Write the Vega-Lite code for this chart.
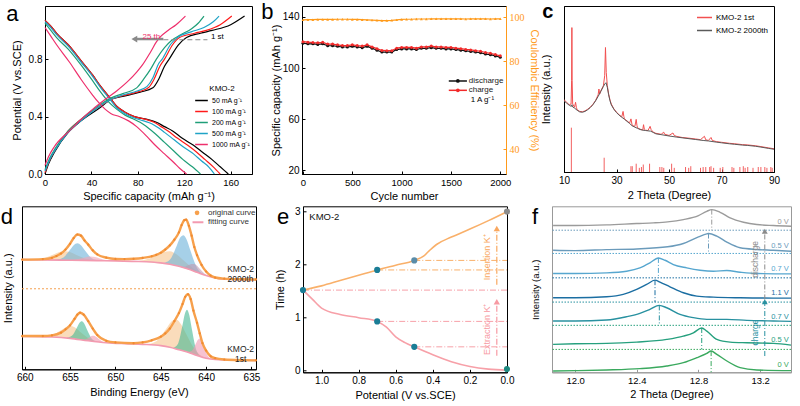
{
"$schema":"https://vega.github.io/schema/vega-lite/v6.json",
"padding":0,
"config":{
 "font":"Liberation Sans",
 "view":{"stroke":"#000","strokeWidth":1},
 "axis":{"grid":false,"domainColor":"#000","tickColor":"#000","labelColor":"#000","titleColor":"#000","labelFontSize":10,"titleFontSize":11,"titleFontWeight":"normal","tickSize":-3,"labelPadding":6,"titlePadding":4,"labelOverlap":false,"labelSeparation":-100,"labelFlush":false}
},
"datasets":{
 "one":[{}],
 "a":[
 {"r":"50 mA g⁻¹","b":"c","x":0,"y":0},{"r":"50 mA g⁻¹","b":"c","x":3,"y":0.07},{"r":"50 mA g⁻¹","b":"c","x":8,"y":0.15},{"r":"50 mA g⁻¹","b":"c","x":20,"y":0.29},{"r":"50 mA g⁻¹","b":"c","x":31,"y":0.37},{"r":"50 mA g⁻¹","b":"c","x":47,"y":0.46},{"r":"50 mA g⁻¹","b":"c","x":57,"y":0.52},{"r":"50 mA g⁻¹","b":"c","x":67,"y":0.54},{"r":"50 mA g⁻¹","b":"c","x":82,"y":0.57},{"r":"50 mA g⁻¹","b":"c","x":93,"y":0.6},{"r":"50 mA g⁻¹","b":"c","x":98,"y":0.66},{"r":"50 mA g⁻¹","b":"c","x":103,"y":0.75},{"r":"50 mA g⁻¹","b":"c","x":107,"y":0.8},{"r":"50 mA g⁻¹","b":"c","x":115,"y":0.9},{"r":"50 mA g⁻¹","b":"c","x":122,"y":0.95},{"r":"50 mA g⁻¹","b":"c","x":134,"y":0.98},{"r":"50 mA g⁻¹","b":"c","x":144,"y":1.0},{"r":"50 mA g⁻¹","b":"c","x":160,"y":1.04},{"r":"50 mA g⁻¹","b":"c","x":172,"y":1.1},
 {"r":"50 mA g⁻¹","b":"d","x":0,"y":1.07},{"r":"50 mA g⁻¹","b":"d","x":5,"y":1.03},{"r":"50 mA g⁻¹","b":"d","x":10,"y":0.98},{"r":"50 mA g⁻¹","b":"d","x":20,"y":0.9},{"r":"50 mA g⁻¹","b":"d","x":31,"y":0.79},{"r":"50 mA g⁻¹","b":"d","x":41,"y":0.69},{"r":"50 mA g⁻¹","b":"d","x":48,"y":0.61},{"r":"50 mA g⁻¹","b":"d","x":55,"y":0.54},{"r":"50 mA g⁻¹","b":"d","x":62,"y":0.47},{"r":"50 mA g⁻¹","b":"d","x":69,"y":0.43},{"r":"50 mA g⁻¹","b":"d","x":77,"y":0.4},{"r":"50 mA g⁻¹","b":"d","x":88,"y":0.38},{"r":"50 mA g⁻¹","b":"d","x":96,"y":0.36},{"r":"50 mA g⁻¹","b":"d","x":103,"y":0.33},{"r":"50 mA g⁻¹","b":"d","x":110,"y":0.3},{"r":"50 mA g⁻¹","b":"d","x":118,"y":0.25},{"r":"50 mA g⁻¹","b":"d","x":128,"y":0.2},{"r":"50 mA g⁻¹","b":"d","x":136,"y":0.15},{"r":"50 mA g⁻¹","b":"d","x":144,"y":0.1},{"r":"50 mA g⁻¹","b":"d","x":151,"y":0.05},{"r":"50 mA g⁻¹","b":"d","x":158,"y":0},
 {"r":"100 mA g⁻¹","b":"c","x":0,"y":0.01},{"r":"100 mA g⁻¹","b":"c","x":3,"y":0.08},{"r":"100 mA g⁻¹","b":"c","x":8,"y":0.16},{"r":"100 mA g⁻¹","b":"c","x":20,"y":0.3},{"r":"100 mA g⁻¹","b":"c","x":31,"y":0.38},{"r":"100 mA g⁻¹","b":"c","x":47,"y":0.47},{"r":"100 mA g⁻¹","b":"c","x":57,"y":0.52},{"r":"100 mA g⁻¹","b":"c","x":67,"y":0.545},{"r":"100 mA g⁻¹","b":"c","x":77,"y":0.565},{"r":"100 mA g⁻¹","b":"c","x":89,"y":0.6},{"r":"100 mA g⁻¹","b":"c","x":94,"y":0.66},{"r":"100 mA g⁻¹","b":"c","x":99,"y":0.75},{"r":"100 mA g⁻¹","b":"c","x":103,"y":0.8},{"r":"100 mA g⁻¹","b":"c","x":110,"y":0.9},{"r":"100 mA g⁻¹","b":"c","x":116,"y":0.95},{"r":"100 mA g⁻¹","b":"c","x":129,"y":0.98},{"r":"100 mA g⁻¹","b":"c","x":139,"y":1.0},{"r":"100 mA g⁻¹","b":"c","x":151,"y":1.04},{"r":"100 mA g⁻¹","b":"c","x":161,"y":1.1},
 {"r":"100 mA g⁻¹","b":"d","x":0,"y":1.07},{"r":"100 mA g⁻¹","b":"d","x":5,"y":1.03},{"r":"100 mA g⁻¹","b":"d","x":10,"y":0.98},{"r":"100 mA g⁻¹","b":"d","x":20,"y":0.9},{"r":"100 mA g⁻¹","b":"d","x":31,"y":0.79},{"r":"100 mA g⁻¹","b":"d","x":41,"y":0.69},{"r":"100 mA g⁻¹","b":"d","x":48,"y":0.61},{"r":"100 mA g⁻¹","b":"d","x":55,"y":0.54},{"r":"100 mA g⁻¹","b":"d","x":62,"y":0.47},{"r":"100 mA g⁻¹","b":"d","x":69,"y":0.43},{"r":"100 mA g⁻¹","b":"d","x":77,"y":0.4},{"r":"100 mA g⁻¹","b":"d","x":87,"y":0.38},{"r":"100 mA g⁻¹","b":"d","x":94,"y":0.36},{"r":"100 mA g⁻¹","b":"d","x":100,"y":0.33},{"r":"100 mA g⁻¹","b":"d","x":106,"y":0.3},{"r":"100 mA g⁻¹","b":"d","x":114,"y":0.25},{"r":"100 mA g⁻¹","b":"d","x":123,"y":0.2},{"r":"100 mA g⁻¹","b":"d","x":131,"y":0.15},{"r":"100 mA g⁻¹","b":"d","x":138,"y":0.1},{"r":"100 mA g⁻¹","b":"d","x":145,"y":0.05},{"r":"100 mA g⁻¹","b":"d","x":151,"y":0},
 {"r":"200 mA g⁻¹","b":"c","x":0,"y":0.03},{"r":"200 mA g⁻¹","b":"c","x":4,"y":0.11},{"r":"200 mA g⁻¹","b":"c","x":9,"y":0.18},{"r":"200 mA g⁻¹","b":"c","x":20,"y":0.3},{"r":"200 mA g⁻¹","b":"c","x":31,"y":0.38},{"r":"200 mA g⁻¹","b":"c","x":47,"y":0.48},{"r":"200 mA g⁻¹","b":"c","x":57,"y":0.53},{"r":"200 mA g⁻¹","b":"c","x":67,"y":0.56},{"r":"200 mA g⁻¹","b":"c","x":79,"y":0.6},{"r":"200 mA g⁻¹","b":"c","x":85,"y":0.66},{"r":"200 mA g⁻¹","b":"c","x":91,"y":0.73},{"r":"200 mA g⁻¹","b":"c","x":96,"y":0.8},{"r":"200 mA g⁻¹","b":"c","x":103,"y":0.88},{"r":"200 mA g⁻¹","b":"c","x":109,"y":0.93},{"r":"200 mA g⁻¹","b":"c","x":117,"y":0.97},{"r":"200 mA g⁻¹","b":"c","x":126,"y":1.01},{"r":"200 mA g⁻¹","b":"c","x":132,"y":1.05},{"r":"200 mA g⁻¹","b":"c","x":137,"y":1.1},
 {"r":"200 mA g⁻¹","b":"d","x":0,"y":1.05},{"r":"200 mA g⁻¹","b":"d","x":5,"y":1.0},{"r":"200 mA g⁻¹","b":"d","x":10,"y":0.95},{"r":"200 mA g⁻¹","b":"d","x":20,"y":0.87},{"r":"200 mA g⁻¹","b":"d","x":31,"y":0.76},{"r":"200 mA g⁻¹","b":"d","x":41,"y":0.65},{"r":"200 mA g⁻¹","b":"d","x":48,"y":0.57},{"r":"200 mA g⁻¹","b":"d","x":55,"y":0.5},{"r":"200 mA g⁻¹","b":"d","x":62,"y":0.45},{"r":"200 mA g⁻¹","b":"d","x":69,"y":0.41},{"r":"200 mA g⁻¹","b":"d","x":77,"y":0.38},{"r":"200 mA g⁻¹","b":"d","x":82,"y":0.36},{"r":"200 mA g⁻¹","b":"d","x":89,"y":0.32},{"r":"200 mA g⁻¹","b":"d","x":95,"y":0.28},{"r":"200 mA g⁻¹","b":"d","x":103,"y":0.22},{"r":"200 mA g⁻¹","b":"d","x":111,"y":0.16},{"r":"200 mA g⁻¹","b":"d","x":119,"y":0.1},{"r":"200 mA g⁻¹","b":"d","x":127,"y":0.05},{"r":"200 mA g⁻¹","b":"d","x":134,"y":0},
 {"r":"500 mA g⁻¹","b":"c","x":0,"y":0.02},{"r":"500 mA g⁻¹","b":"c","x":4,"y":0.1},{"r":"500 mA g⁻¹","b":"c","x":9,"y":0.17},{"r":"500 mA g⁻¹","b":"c","x":20,"y":0.29},{"r":"500 mA g⁻¹","b":"c","x":31,"y":0.37},{"r":"500 mA g⁻¹","b":"c","x":47,"y":0.47},{"r":"500 mA g⁻¹","b":"c","x":57,"y":0.52},{"r":"500 mA g⁻¹","b":"c","x":67,"y":0.55},{"r":"500 mA g⁻¹","b":"c","x":80,"y":0.58},{"r":"500 mA g⁻¹","b":"c","x":88,"y":0.61},{"r":"500 mA g⁻¹","b":"c","x":93,"y":0.67},{"r":"500 mA g⁻¹","b":"c","x":98,"y":0.77},{"r":"500 mA g⁻¹","b":"c","x":101,"y":0.8},{"r":"500 mA g⁻¹","b":"c","x":108,"y":0.9},{"r":"500 mA g⁻¹","b":"c","x":114,"y":0.95},{"r":"500 mA g⁻¹","b":"c","x":126,"y":0.99},{"r":"500 mA g⁻¹","b":"c","x":137,"y":1.02},{"r":"500 mA g⁻¹","b":"c","x":145,"y":1.06},{"r":"500 mA g⁻¹","b":"c","x":150,"y":1.1},
 {"r":"500 mA g⁻¹","b":"d","x":0,"y":1.06},{"r":"500 mA g⁻¹","b":"d","x":5,"y":1.02},{"r":"500 mA g⁻¹","b":"d","x":10,"y":0.97},{"r":"500 mA g⁻¹","b":"d","x":20,"y":0.89},{"r":"500 mA g⁻¹","b":"d","x":31,"y":0.78},{"r":"500 mA g⁻¹","b":"d","x":41,"y":0.68},{"r":"500 mA g⁻¹","b":"d","x":48,"y":0.6},{"r":"500 mA g⁻¹","b":"d","x":55,"y":0.53},{"r":"500 mA g⁻¹","b":"d","x":62,"y":0.46},{"r":"500 mA g⁻¹","b":"d","x":69,"y":0.42},{"r":"500 mA g⁻¹","b":"d","x":77,"y":0.39},{"r":"500 mA g⁻¹","b":"d","x":85,"y":0.37},{"r":"500 mA g⁻¹","b":"d","x":92,"y":0.35},{"r":"500 mA g⁻¹","b":"d","x":98,"y":0.32},{"r":"500 mA g⁻¹","b":"d","x":103,"y":0.29},{"r":"500 mA g⁻¹","b":"d","x":111,"y":0.24},{"r":"500 mA g⁻¹","b":"d","x":119,"y":0.19},{"r":"500 mA g⁻¹","b":"d","x":128,"y":0.14},{"r":"500 mA g⁻¹","b":"d","x":135,"y":0.09},{"r":"500 mA g⁻¹","b":"d","x":141,"y":0.05},{"r":"500 mA g⁻¹","b":"d","x":146,"y":0},
 {"r":"1000 mA g⁻¹","b":"c","x":0,"y":0.06},{"r":"1000 mA g⁻¹","b":"c","x":3,"y":0.12},{"r":"1000 mA g⁻¹","b":"c","x":8,"y":0.19},{"r":"1000 mA g⁻¹","b":"c","x":21,"y":0.3},{"r":"1000 mA g⁻¹","b":"c","x":31,"y":0.38},{"r":"1000 mA g⁻¹","b":"c","x":41,"y":0.45},{"r":"1000 mA g⁻¹","b":"c","x":52,"y":0.52},{"r":"1000 mA g⁻¹","b":"c","x":62,"y":0.58},{"r":"1000 mA g⁻¹","b":"c","x":72,"y":0.65},{"r":"1000 mA g⁻¹","b":"c","x":79,"y":0.71},{"r":"1000 mA g⁻¹","b":"c","x":84,"y":0.76},{"r":"1000 mA g⁻¹","b":"c","x":91,"y":0.85},{"r":"1000 mA g⁻¹","b":"c","x":96,"y":0.92},{"r":"1000 mA g⁻¹","b":"c","x":100,"y":0.96},{"r":"1000 mA g⁻¹","b":"c","x":106,"y":1.0},{"r":"1000 mA g⁻¹","b":"c","x":113,"y":1.04},{"r":"1000 mA g⁻¹","b":"c","x":121,"y":1.1},
 {"r":"1000 mA g⁻¹","b":"d","x":0,"y":1.02},{"r":"1000 mA g⁻¹","b":"d","x":5,"y":0.96},{"r":"1000 mA g⁻¹","b":"d","x":10,"y":0.9},{"r":"1000 mA g⁻¹","b":"d","x":21,"y":0.78},{"r":"1000 mA g⁻¹","b":"d","x":31,"y":0.66},{"r":"1000 mA g⁻¹","b":"d","x":41,"y":0.55},{"r":"1000 mA g⁻¹","b":"d","x":46,"y":0.5},{"r":"1000 mA g⁻¹","b":"d","x":52,"y":0.45},{"r":"1000 mA g⁻¹","b":"d","x":57,"y":0.42},{"r":"1000 mA g⁻¹","b":"d","x":64,"y":0.4},{"r":"1000 mA g⁻¹","b":"d","x":72,"y":0.37},{"r":"1000 mA g⁻¹","b":"d","x":79,"y":0.33},{"r":"1000 mA g⁻¹","b":"d","x":88,"y":0.26},{"r":"1000 mA g⁻¹","b":"d","x":95,"y":0.2},{"r":"1000 mA g⁻¹","b":"d","x":103,"y":0.14},{"r":"1000 mA g⁻¹","b":"d","x":111,"y":0.08},{"r":"1000 mA g⁻¹","b":"d","x":116,"y":0.04},{"r":"1000 mA g⁻¹","b":"d","x":122,"y":0}
 ],
 "b":[
 {"cyc":0,"discharge":119.5,"charge":120.7,"ce":98.7},{"cyc":50,"discharge":119,"charge":120.3,"ce":98.8},{"cyc":100,"discharge":119,"charge":120,"ce":98.8},{"cyc":150,"discharge":118.5,"charge":119.8,"ce":98.9},{"cyc":200,"discharge":119,"charge":120.2,"ce":98.9},{"cyc":250,"discharge":117.5,"charge":118.8,"ce":98.9},{"cyc":300,"discharge":117.5,"charge":118.8,"ce":98.9},{"cyc":350,"discharge":117,"charge":118.2,"ce":99.0},{"cyc":400,"discharge":116.5,"charge":117.6,"ce":99.0},{"cyc":450,"discharge":116.5,"charge":117.6,"ce":99.0},{"cyc":500,"discharge":117,"charge":118.2,"ce":98.9},{"cyc":550,"discharge":116.5,"charge":117.6,"ce":98.9},{"cyc":600,"discharge":116,"charge":117.2,"ce":98.8},{"cyc":650,"discharge":117,"charge":118.2,"ce":98.7},{"cyc":700,"discharge":115.5,"charge":116.6,"ce":98.6},{"cyc":750,"discharge":114,"charge":115.2,"ce":98.5},{"cyc":800,"discharge":112.5,"charge":113.8,"ce":98.4},{"cyc":850,"discharge":112.5,"charge":113.6,"ce":98.4},{"cyc":900,"discharge":112.5,"charge":113.6,"ce":98.5},{"cyc":950,"discharge":114.5,"charge":115.6,"ce":98.7},{"cyc":1000,"discharge":115,"charge":116.2,"ce":98.9},{"cyc":1050,"discharge":115,"charge":116.2,"ce":99.0},{"cyc":1100,"discharge":115,"charge":116.2,"ce":99.0},{"cyc":1150,"discharge":114.5,"charge":115.6,"ce":99.1},{"cyc":1200,"discharge":115.5,"charge":116.6,"ce":99.1},{"cyc":1250,"discharge":115.5,"charge":116.6,"ce":99.1},{"cyc":1300,"discharge":116,"charge":117.2,"ce":99.2},{"cyc":1350,"discharge":115.5,"charge":116.6,"ce":99.2},{"cyc":1400,"discharge":115.5,"charge":116.6,"ce":99.2},{"cyc":1450,"discharge":115,"charge":116.2,"ce":99.2},{"cyc":1500,"discharge":115,"charge":116.2,"ce":99.2},{"cyc":1550,"discharge":114.5,"charge":115.6,"ce":99.2},{"cyc":1600,"discharge":114,"charge":115.2,"ce":99.2},{"cyc":1650,"discharge":113.5,"charge":114.6,"ce":99.1},{"cyc":1700,"discharge":113,"charge":114.2,"ce":99.2},{"cyc":1750,"discharge":112.5,"charge":113.6,"ce":99.2},{"cyc":1800,"discharge":112,"charge":113.2,"ce":99.2},{"cyc":1850,"discharge":111,"charge":112.2,"ce":99.2},{"cyc":1900,"discharge":110.5,"charge":111.6,"ce":99.1},{"cyc":1950,"discharge":109.5,"charge":110.6,"ce":99.2},{"cyc":2000,"discharge":108.5,"charge":109.6,"ce":99.2}
 ],
 "b_leg":[{"s":"discharge","ly":89.9},{"s":"charge","ly":82.6}],
 "c_sticks":[
 {"x":12.8,"h":26.7},{"x":25.3,"h":8.6},{"x":35.5,"h":3.5},{"x":36,"h":3.5},{"x":37.5,"h":5},{"x":38.7,"h":2.5},{"x":39.5,"h":3},{"x":40.2,"h":4.5},{"x":42.6,"h":5},{"x":46.5,"h":3},{"x":47.3,"h":3},{"x":48,"h":2.5},{"x":51,"h":5},{"x":52,"h":2.5},{"x":56.3,"h":3},{"x":57.5,"h":2.5},{"x":58.3,"h":3.5},{"x":62,"h":2.5},{"x":63,"h":3},{"x":64,"h":3},{"x":65.5,"h":3},{"x":66,"h":3.5},{"x":67,"h":2.5},{"x":69.5,"h":2.5},{"x":70.5,"h":3},{"x":74,"h":3},{"x":74.7,"h":2.5},{"x":77,"h":3},{"x":78.3,"h":3.5},{"x":79,"h":2.5},{"x":80,"h":3},{"x":82,"h":2.5},{"x":84,"h":3},{"x":85,"h":3},{"x":86.5,"h":3},{"x":87.3,"h":2.5},{"x":88.8,"h":3},{"x":89.3,"h":2.5}
 ],
 "c_curves":[
 {"s":"KMO-2  1st","x":10,"y":43.5},{"s":"KMO-2  1st","x":11,"y":42},{"s":"KMO-2  1st","x":12,"y":40.5},{"s":"KMO-2  1st","x":12.7,"y":41},{"s":"KMO-2  1st","x":12.9,"y":55},{"s":"KMO-2  1st","x":13,"y":87},{"s":"KMO-2  1st","x":13.1,"y":55},{"s":"KMO-2  1st","x":13.3,"y":41},{"s":"KMO-2  1st","x":14,"y":39},{"s":"KMO-2  1st","x":14.4,"y":42},{"s":"KMO-2  1st","x":14.7,"y":39},{"s":"KMO-2  1st","x":15,"y":37.5},{"s":"KMO-2  1st","x":16,"y":36.5},{"s":"KMO-2  1st","x":17,"y":36.3},{"s":"KMO-2  1st","x":18,"y":36.8},{"s":"KMO-2  1st","x":19,"y":37.8},{"s":"KMO-2  1st","x":20,"y":39},{"s":"KMO-2  1st","x":21,"y":40.8},{"s":"KMO-2  1st","x":22,"y":43},{"s":"KMO-2  1st","x":23,"y":46.5},{"s":"KMO-2  1st","x":23.3,"y":50},{"s":"KMO-2  1st","x":23.6,"y":47},{"s":"KMO-2  1st","x":24,"y":48.8},{"s":"KMO-2  1st","x":25,"y":52},{"s":"KMO-2  1st","x":25.5,"y":58},{"s":"KMO-2  1st","x":25.8,"y":75},{"s":"KMO-2  1st","x":26.1,"y":60},{"s":"KMO-2  1st","x":26.5,"y":52},{"s":"KMO-2  1st","x":27,"y":47},{"s":"KMO-2  1st","x":27.5,"y":43.5},{"s":"KMO-2  1st","x":28,"y":41},{"s":"KMO-2  1st","x":29,"y":38},{"s":"KMO-2  1st","x":30,"y":36},{"s":"KMO-2  1st","x":31,"y":34.5},{"s":"KMO-2  1st","x":32,"y":33.2},{"s":"KMO-2  1st","x":32.5,"y":36.5},{"s":"KMO-2  1st","x":32.8,"y":33.5},{"s":"KMO-2  1st","x":33,"y":32},{"s":"KMO-2  1st","x":34,"y":30.8},{"s":"KMO-2  1st","x":35,"y":29.5},{"s":"KMO-2  1st","x":35.5,"y":32},{"s":"KMO-2  1st","x":35.8,"y":29.5},{"s":"KMO-2  1st","x":36,"y":28},{"s":"KMO-2  1st","x":37,"y":27.5},{"s":"KMO-2  1st","x":37.5,"y":31.7},{"s":"KMO-2  1st","x":37.8,"y":28},{"s":"KMO-2  1st","x":38,"y":26.6},{"s":"KMO-2  1st","x":39,"y":25.8},{"s":"KMO-2  1st","x":40,"y":25.3},{"s":"KMO-2  1st","x":40.3,"y":28.5},{"s":"KMO-2  1st","x":40.6,"y":25.8},{"s":"KMO-2  1st","x":41,"y":25.2},{"s":"KMO-2  1st","x":42,"y":25},{"s":"KMO-2  1st","x":42.8,"y":27.5},{"s":"KMO-2  1st","x":43.2,"y":25.5},{"s":"KMO-2  1st","x":44,"y":24},{"s":"KMO-2  1st","x":45,"y":23.3},{"s":"KMO-2  1st","x":47,"y":22.7},{"s":"KMO-2  1st","x":48,"y":24},{"s":"KMO-2  1st","x":48.3,"y":22.8},{"s":"KMO-2  1st","x":50,"y":22},{"s":"KMO-2  1st","x":51.5,"y":23.5},{"s":"KMO-2  1st","x":52,"y":22},{"s":"KMO-2  1st","x":53,"y":21.4},{"s":"KMO-2  1st","x":55,"y":20.8},{"s":"KMO-2  1st","x":58,"y":20.3},{"s":"KMO-2  1st","x":60,"y":19.9},{"s":"KMO-2  1st","x":62,"y":19.5},{"s":"KMO-2  1st","x":63.5,"y":21.5},{"s":"KMO-2  1st","x":64,"y":19.4},{"s":"KMO-2  1st","x":65,"y":19},{"s":"KMO-2  1st","x":66,"y":20.8},{"s":"KMO-2  1st","x":66.5,"y":19},{"s":"KMO-2  1st","x":68,"y":18.3},{"s":"KMO-2  1st","x":70,"y":17.9},{"s":"KMO-2  1st","x":73,"y":17.3},{"s":"KMO-2  1st","x":75,"y":17},{"s":"KMO-2  1st","x":78,"y":16.5},{"s":"KMO-2  1st","x":80,"y":16.3},{"s":"KMO-2  1st","x":83,"y":15.8},{"s":"KMO-2  1st","x":85,"y":15.3},{"s":"KMO-2  1st","x":88,"y":14.5},{"s":"KMO-2  1st","x":90,"y":14},
 {"s":"KMO-2  2000th","x":10,"y":42.8},{"s":"KMO-2  2000th","x":11,"y":41.5},{"s":"KMO-2  2000th","x":12,"y":40.2},{"s":"KMO-2  2000th","x":12.8,"y":39.5},{"s":"KMO-2  2000th","x":13,"y":40.5},{"s":"KMO-2  2000th","x":13.3,"y":39.2},{"s":"KMO-2  2000th","x":14,"y":38.5},{"s":"KMO-2  2000th","x":15,"y":37.2},{"s":"KMO-2  2000th","x":16,"y":36.2},{"s":"KMO-2  2000th","x":17,"y":36},{"s":"KMO-2  2000th","x":18,"y":36.5},{"s":"KMO-2  2000th","x":19,"y":37.5},{"s":"KMO-2  2000th","x":20,"y":38.8},{"s":"KMO-2  2000th","x":21,"y":40.5},{"s":"KMO-2  2000th","x":22,"y":42.8},{"s":"KMO-2  2000th","x":23,"y":45.5},{"s":"KMO-2  2000th","x":24,"y":48.5},{"s":"KMO-2  2000th","x":25,"y":51.5},{"s":"KMO-2  2000th","x":25.5,"y":53},{"s":"KMO-2  2000th","x":26,"y":53.8},{"s":"KMO-2  2000th","x":26.5,"y":51},{"s":"KMO-2  2000th","x":27,"y":46.5},{"s":"KMO-2  2000th","x":27.5,"y":43},{"s":"KMO-2  2000th","x":28,"y":40.5},{"s":"KMO-2  2000th","x":29,"y":37.8},{"s":"KMO-2  2000th","x":30,"y":35.8},{"s":"KMO-2  2000th","x":31,"y":34.2},{"s":"KMO-2  2000th","x":32,"y":33},{"s":"KMO-2  2000th","x":33,"y":31.8},{"s":"KMO-2  2000th","x":34,"y":30.5},{"s":"KMO-2  2000th","x":35,"y":29.2},{"s":"KMO-2  2000th","x":36,"y":27.8},{"s":"KMO-2  2000th","x":37,"y":27},{"s":"KMO-2  2000th","x":38,"y":26.3},{"s":"KMO-2  2000th","x":39,"y":25.6},{"s":"KMO-2  2000th","x":40,"y":25.2},{"s":"KMO-2  2000th","x":41,"y":25},{"s":"KMO-2  2000th","x":42,"y":24.8},{"s":"KMO-2  2000th","x":43,"y":24.6},{"s":"KMO-2  2000th","x":44,"y":23.8},{"s":"KMO-2  2000th","x":45,"y":23},{"s":"KMO-2  2000th","x":47,"y":22.5},{"s":"KMO-2  2000th","x":50,"y":21.7},{"s":"KMO-2  2000th","x":53,"y":21},{"s":"KMO-2  2000th","x":55,"y":20.6},{"s":"KMO-2  2000th","x":58,"y":20},{"s":"KMO-2  2000th","x":60,"y":19.6},{"s":"KMO-2  2000th","x":63,"y":19},{"s":"KMO-2  2000th","x":65,"y":18.7},{"s":"KMO-2  2000th","x":68,"y":18},{"s":"KMO-2  2000th","x":70,"y":17.6},{"s":"KMO-2  2000th","x":73,"y":17},{"s":"KMO-2  2000th","x":75,"y":16.7},{"s":"KMO-2  2000th","x":78,"y":16.2},{"s":"KMO-2  2000th","x":80,"y":16},{"s":"KMO-2  2000th","x":83,"y":15.5},{"s":"KMO-2  2000th","x":85,"y":15},{"s":"KMO-2  2000th","x":88,"y":14.2},{"s":"KMO-2  2000th","x":90,"y":13.7}
 ],
 "d_comp":[
 {"k":"uo1","x":659.5,"t":67.26,"bo":67.2},{"k":"uo1","x":658.2,"t":67.84,"bo":67.1},{"k":"uo1","x":656.9,"t":70.34,"bo":67.0},{"k":"uo1","x":656.25,"t":71.85,"bo":67.0},{"k":"uo1","x":655.6,"t":72.45,"bo":66.95},{"k":"uo1","x":654.95,"t":71.75,"bo":66.9},{"k":"uo1","x":654.3,"t":70.19,"bo":66.85},{"k":"uo1","x":653.0,"t":67.44,"bo":66.7},{"k":"uo1","x":651.7,"t":66.66,"bo":66.6},
 {"k":"uo2","x":648.2,"t":66.29,"bo":66.2},{"k":"uo2","x":646.8,"t":67.08,"bo":66.0},{"k":"uo2","x":645.4,"t":69.96,"bo":65.1},{"k":"uo2","x":644.7,"t":71.76,"bo":64.7},{"k":"uo2","x":644.0,"t":72.5,"bo":64.5},{"k":"uo2","x":643.3,"t":70.66,"bo":63.6},{"k":"uo2","x":642.6,"t":67.36,"bo":62.5},{"k":"uo2","x":641.2,"t":60.98,"bo":59.9},{"k":"uo2","x":639.8,"t":57.29,"bo":57.2},
 {"k":"lo1","x":658.2,"t":20.08,"bo":20.0},{"k":"lo1","x":657.1,"t":20.81,"bo":19.8},{"k":"lo1","x":656.0,"t":23.95,"bo":19.4},{"k":"lo1","x":655.45,"t":25.82,"bo":19.2},{"k":"lo1","x":654.9,"t":26.5,"bo":19.0},{"k":"lo1","x":654.35,"t":25.22,"bo":18.6},{"k":"lo1","x":653.8,"t":22.65,"bo":18.1},{"k":"lo1","x":652.7,"t":18.31,"bo":17.3},{"k":"lo1","x":651.6,"t":16.68,"bo":16.6},
 {"k":"lo2","x":646.6,"t":15.3,"bo":15.1},{"k":"lo2","x":645.5,"t":17.23,"bo":14.8},{"k":"lo2","x":644.4,"t":24.83,"bo":13.9},{"k":"lo2","x":643.85,"t":29.18,"bo":13.3},{"k":"lo2","x":643.3,"t":30.5,"bo":12.5},{"k":"lo2","x":642.75,"t":27.48,"bo":11.6},{"k":"lo2","x":642.2,"t":21.73,"bo":10.8},{"k":"lo2","x":641.1,"t":11.13,"bo":8.7},{"k":"lo2","x":640.0,"t":7.0,"bo":6.8},
 {"k":"ub1","x":656.6,"t":67.07,"bo":66.95},{"k":"ub1","x":655.8,"t":68.37,"bo":66.95},{"k":"ub1","x":655.0,"t":73.27,"bo":66.9},{"k":"ub1","x":654.6,"t":76.16,"bo":66.9},{"k":"ub1","x":654.2,"t":77.35,"bo":66.85},{"k":"ub1","x":653.8,"t":76.06,"bo":66.8},{"k":"ub1","x":653.4,"t":73.17,"bo":66.8},{"k":"ub1","x":652.6,"t":68.12,"bo":66.7},{"k":"ub1","x":651.8,"t":66.72,"bo":66.6},
 {"k":"ub2","x":644.75,"t":65.12,"bo":64.9},{"k":"ub2","x":644.0,"t":67.2,"bo":64.5},{"k":"ub2","x":643.25,"t":75.64,"bo":63.5},{"k":"ub2","x":642.875,"t":80.64,"bo":63.0},{"k":"ub2","x":642.5,"t":82.3,"bo":62.3},{"k":"ub2","x":642.125,"t":79.34,"bo":61.7},{"k":"ub2","x":641.75,"t":73.14,"bo":61.0},{"k":"ub2","x":641.0,"t":62.2,"bo":59.5},{"k":"ub2","x":640.25,"t":58.22,"bo":58.0},
 {"k":"lg1","x":655.35,"t":19.33,"bo":19.2},{"k":"lg1","x":654.8,"t":20.55,"bo":19.0},{"k":"lg1","x":654.25,"t":25.48,"bo":18.5},{"k":"lg1","x":653.975,"t":28.44,"bo":18.3},{"k":"lg1","x":653.7,"t":29.5,"bo":18.0},{"k":"lg1","x":653.425,"t":27.94,"bo":17.8},{"k":"lg1","x":653.15,"t":24.58,"bo":17.6},{"k":"lg1","x":652.6,"t":18.75,"bo":17.2},{"k":"lg1","x":652.05,"t":16.93,"bo":16.8},
 {"k":"lg2","x":643.6,"t":13.19,"bo":12.9},{"k":"lg2","x":643.1,"t":15.71,"bo":12.2},{"k":"lg2","x":642.6,"t":27.18,"bo":11.4},{"k":"lg2","x":642.35,"t":33.93,"bo":11.0},{"k":"lg2","x":642.1,"t":36.6,"bo":10.6},{"k":"lg2","x":641.85,"t":33.13,"bo":10.2},{"k":"lg2","x":641.6,"t":25.48,"bo":9.7},{"k":"lg2","x":641.1,"t":12.21,"bo":8.7},{"k":"lg2","x":640.6,"t":8.09,"bo":7.8},
 {"k":"up1","x":655.4,"t":66.93,"bo":66.9},{"k":"up1","x":654.5,"t":67.19,"bo":66.85},{"k":"up1","x":653.6,"t":68.32,"bo":66.8},{"k":"up1","x":653.15,"t":68.95,"bo":66.75},{"k":"up1","x":652.7,"t":69.2,"bo":66.7},{"k":"up1","x":652.25,"t":68.85,"bo":66.65},{"k":"up1","x":651.8,"t":68.12,"bo":66.6},{"k":"up1","x":650.9,"t":66.89,"bo":66.55},{"k":"up1","x":650.0,"t":66.53,"bo":66.5},
 {"k":"up2","x":643.1,"t":63.45,"bo":63.4},{"k":"up2","x":642.5,"t":62.91,"bo":62.3},{"k":"up2","x":641.9,"t":64.03,"bo":61.3},{"k":"up2","x":641.6,"t":64.67,"bo":60.7},{"k":"up2","x":641.3,"t":64.6,"bo":60.1},{"k":"up2","x":641.0,"t":63.47,"bo":59.5},{"k":"up2","x":640.7,"t":61.63,"bo":58.9},{"k":"up2","x":640.1,"t":58.31,"bo":57.7},{"k":"up2","x":639.5,"t":56.85,"bo":56.8},
 {"k":"lp1","x":653.9,"t":18.24,"bo":18.2},{"k":"lp1","x":653.4,"t":18.27,"bo":17.8},{"k":"lp1","x":652.9,"t":19.52,"bo":17.4},{"k":"lp1","x":652.65,"t":20.39,"bo":17.3},{"k":"lp1","x":652.4,"t":20.6,"bo":17.1},{"k":"lp1","x":652.15,"t":20.04,"bo":16.95},{"k":"lp1","x":651.9,"t":18.92,"bo":16.8},{"k":"lp1","x":651.4,"t":16.97,"bo":16.5},{"k":"lp1","x":650.9,"t":16.24,"bo":16.2},
 {"k":"lp2","x":642.05,"t":10.62,"bo":10.5},{"k":"lp2","x":641.6,"t":11.19,"bo":9.7},{"k":"lp2","x":641.15,"t":15.48,"bo":8.8},{"k":"lp2","x":640.925,"t":18.0,"bo":8.3},{"k":"lp2","x":640.7,"t":18.9,"bo":7.9},{"k":"lp2","x":640.475,"t":17.2,"bo":7.5},{"k":"lp2","x":640.25,"t":13.78,"bo":7.1},{"k":"lp2","x":639.8,"t":8.09,"bo":6.6},{"k":"lp2","x":639.35,"t":6.32,"bo":6.2}
 ],
 "d_base":[
 {"s":"u","x":660.3,"y":67.3},{"s":"u","x":656,"y":67.0},{"s":"u","x":652,"y":66.7},{"s":"u","x":650,"y":66.5},{"s":"u","x":648,"y":66.2},{"s":"u","x":646,"y":65.8},{"s":"u","x":645,"y":65.3},{"s":"u","x":644,"y":64.5},{"s":"u","x":643,"y":63.2},{"s":"u","x":642,"y":61.5},{"s":"u","x":641,"y":59.5},{"s":"u","x":640,"y":57.5},{"s":"u","x":639,"y":56.0},{"s":"u","x":638,"y":55.3},{"s":"u","x":636,"y":55.0},{"s":"u","x":634.5,"y":55.0},
 {"s":"l","x":660.3,"y":20.2},{"s":"l","x":657,"y":19.8},{"s":"l","x":655,"y":19.0},{"s":"l","x":653,"y":17.5},{"s":"l","x":651,"y":16.3},{"s":"l","x":649,"y":15.7},{"s":"l","x":647,"y":15.3},{"s":"l","x":645,"y":14.5},{"s":"l","x":644,"y":13.5},{"s":"l","x":643,"y":12.0},{"s":"l","x":642,"y":10.5},{"s":"l","x":641,"y":8.5},{"s":"l","x":640,"y":6.8},{"s":"l","x":639,"y":6.0},{"s":"l","x":637,"y":5.6},{"s":"l","x":634.5,"y":5.5}
 ],
 "d_orig":[
 {"s":"u","x":660.3,"y":67.3},{"s":"u","x":658,"y":67.6},{"s":"u","x":657,"y":68.4},{"s":"u","x":656.5,"y":69.5},{"s":"u","x":656,"y":71},{"s":"u","x":655.5,"y":73.5},{"s":"u","x":655,"y":77},{"s":"u","x":654.6,"y":80.5},{"s":"u","x":654.2,"y":82.7},{"s":"u","x":653.8,"y":82},{"s":"u","x":653.4,"y":79},{"s":"u","x":653,"y":76.5},{"s":"u","x":652.5,"y":73},{"s":"u","x":652,"y":70.5},{"s":"u","x":651,"y":68.5},{"s":"u","x":650,"y":67.7},{"s":"u","x":649,"y":67.6},{"s":"u","x":648,"y":67.8},{"s":"u","x":647,"y":68.3},{"s":"u","x":646,"y":69.3},{"s":"u","x":645.5,"y":70.2},{"s":"u","x":645,"y":71.5},{"s":"u","x":644.5,"y":73.5},{"s":"u","x":644,"y":76},{"s":"u","x":643.5,"y":79.5},{"s":"u","x":643,"y":84},{"s":"u","x":642.7,"y":88.5},{"s":"u","x":642.4,"y":91.5},{"s":"u","x":642.2,"y":91.8},{"s":"u","x":641.9,"y":88},{"s":"u","x":641.6,"y":82},{"s":"u","x":641.3,"y":75},{"s":"u","x":641,"y":70},{"s":"u","x":640.5,"y":64},{"s":"u","x":640,"y":60},{"s":"u","x":639.5,"y":57.5},{"s":"u","x":639,"y":56.3},{"s":"u","x":638,"y":55.6},{"s":"u","x":636,"y":55.2},{"s":"u","x":634.5,"y":55.1},
 {"s":"l","x":660.3,"y":20.4},{"s":"l","x":658,"y":20.4},{"s":"l","x":657,"y":20.8},{"s":"l","x":656,"y":22.5},{"s":"l","x":655.5,"y":24.5},{"s":"l","x":655,"y":27},{"s":"l","x":654.5,"y":31},{"s":"l","x":654.2,"y":33.5},{"s":"l","x":653.9,"y":34.7},{"s":"l","x":653.5,"y":33.5},{"s":"l","x":653,"y":29.5},{"s":"l","x":652.5,"y":25},{"s":"l","x":652,"y":21},{"s":"l","x":651,"y":17.5},{"s":"l","x":650,"y":16.5},{"s":"l","x":648,"y":16},{"s":"l","x":647,"y":16.5},{"s":"l","x":646,"y":17.8},{"s":"l","x":645,"y":20},{"s":"l","x":644.5,"y":22},{"s":"l","x":644,"y":25},{"s":"l","x":643.5,"y":29.5},{"s":"l","x":643,"y":34.5},{"s":"l","x":642.6,"y":40},{"s":"l","x":642.3,"y":44.5},{"s":"l","x":642,"y":46},{"s":"l","x":641.7,"y":43},{"s":"l","x":641.4,"y":36},{"s":"l","x":641,"y":28.5},{"s":"l","x":640.7,"y":22},{"s":"l","x":640.4,"y":16},{"s":"l","x":640,"y":11.5},{"s":"l","x":639.5,"y":8},{"s":"l","x":639,"y":6.8},{"s":"l","x":638,"y":6},{"s":"l","x":636,"y":5.6},{"s":"l","x":634.5,"y":5.5}
 ],
 "e_lines":[
 {"s":"ins","p":1.1,"t":1.52},{"s":"ins","p":1.0,"t":1.6},{"s":"ins","p":0.9,"t":1.7},{"s":"ins","p":0.8,"t":1.8},{"s":"ins","p":0.7,"t":1.9},{"s":"ins","p":0.6,"t":1.99},{"s":"ins","p":0.5,"t":2.08},{"s":"ins","p":0.45,"t":2.16},{"s":"ins","p":0.42,"t":2.26},{"s":"ins","p":0.38,"t":2.38},{"s":"ins","p":0.3,"t":2.52},{"s":"ins","p":0.2,"t":2.67},{"s":"ins","p":0.1,"t":2.83},{"s":"ins","p":0.0,"t":3.0},
 {"s":"ext","p":1.1,"t":1.52},{"s":"ext","p":1.05,"t":1.35},{"s":"ext","p":1.0,"t":1.18},{"s":"ext","p":0.9,"t":1.06},{"s":"ext","p":0.8,"t":1.0},{"s":"ext","p":0.7,"t":0.93},{"s":"ext","p":0.65,"t":0.82},{"s":"ext","p":0.6,"t":0.64},{"s":"ext","p":0.55,"t":0.53},{"s":"ext","p":0.5,"t":0.45},{"s":"ext","p":0.4,"t":0.3},{"s":"ext","p":0.3,"t":0.17},{"s":"ext","p":0.2,"t":0.08},{"s":"ext","p":0.1,"t":0.03},{"s":"ext","p":0.0,"t":0.01}
 ],
 "e_rules":[
 {"s":"ins","p":0.5,"t":2.08},{"s":"ins","p":0.7,"t":1.9},{"s":"ext","p":1.1,"t":1.52},{"s":"ext","p":0.7,"t":0.93},{"s":"ext","p":0.5,"t":0.45}
 ],
 "e_dots":[
 {"k":"teal","p":1.1,"t":1.52},{"k":"teal","p":0.7,"t":1.9},{"k":"steel","p":0.5,"t":2.08},{"k":"gray","p":0.0,"t":3.0},{"k":"teal","p":0.7,"t":0.93},{"k":"teal","p":0.5,"t":0.45},{"k":"green","p":0.0,"t":0.03}
 ],
 "f_curves":[
 {"c":"c7","x":11.857,"y":88.4},{"c":"c7","x":12.0,"y":88.4},{"c":"c7","x":12.204,"y":88.8},{"c":"c7","x":12.399,"y":89.6},{"c":"c7","x":12.507,"y":90.0},{"c":"c7","x":12.6,"y":90.6},{"c":"c7","x":12.702,"y":92.0},{"c":"c7","x":12.8,"y":94.4},{"c":"c7","x":12.854,"y":97.0},{"c":"c7","x":12.886,"y":98.0},{"c":"c7","x":12.94,"y":96.4},{"c":"c7","x":13.005,"y":93.0},{"c":"c7","x":13.092,"y":90.4},{"c":"c7","x":13.178,"y":89.0},{"c":"c7","x":13.286,"y":88.4},{"c":"c7","x":13.4,"y":88.0},
 {"c":"c6","x":11.857,"y":73.5},{"c":"c6","x":12.0,"y":73.3},{"c":"c6","x":12.204,"y":73.9},{"c":"c6","x":12.399,"y":74.3},{"c":"c6","x":12.6,"y":75.6},{"c":"c6","x":12.702,"y":77.6},{"c":"c6","x":12.8,"y":81.6},{"c":"c6","x":12.854,"y":83.4},{"c":"c6","x":12.865,"y":83.6},{"c":"c6","x":12.919,"y":82.0},{"c":"c6","x":12.984,"y":78.4},{"c":"c6","x":13.07,"y":75.0},{"c":"c6","x":13.178,"y":74.0},{"c":"c6","x":13.286,"y":73.5},{"c":"c6","x":13.4,"y":72.9},
 {"c":"c5","x":11.857,"y":59.5},{"c":"c5","x":12.0,"y":59.5},{"c":"c5","x":12.204,"y":59.9},{"c":"c5","x":12.334,"y":60.9},{"c":"c5","x":12.42,"y":62.9},{"c":"c5","x":12.485,"y":65.9},{"c":"c5","x":12.54,"y":68.9},{"c":"c5","x":12.583,"y":67.5},{"c":"c5","x":12.637,"y":64.9},{"c":"c5","x":12.724,"y":62.9},{"c":"c5","x":12.81,"y":61.5},{"c":"c5","x":12.897,"y":60.9},{"c":"c5","x":12.984,"y":61.3},{"c":"c5","x":13.07,"y":60.3},{"c":"c5","x":13.178,"y":59.5},{"c":"c5","x":13.4,"y":59.3},
 {"c":"c4","x":11.857,"y":44.9},{"c":"c4","x":12.0,"y":44.9},{"c":"c4","x":12.204,"y":45.5},{"c":"c4","x":12.312,"y":46.9},{"c":"c4","x":12.399,"y":49.9},{"c":"c4","x":12.464,"y":52.9},{"c":"c4","x":12.518,"y":55.5},{"c":"c4","x":12.55,"y":54.3},{"c":"c4","x":12.615,"y":51.5},{"c":"c4","x":12.702,"y":47.9},{"c":"c4","x":12.789,"y":45.9},{"c":"c4","x":12.897,"y":45.3},{"c":"c4","x":13.07,"y":44.9},{"c":"c4","x":13.286,"y":44.7},{"c":"c4","x":13.4,"y":44.7},
 {"c":"c3","x":11.857,"y":30.9},{"c":"c3","x":12.0,"y":30.9},{"c":"c3","x":12.204,"y":31.5},{"c":"c3","x":12.334,"y":33.5},{"c":"c3","x":12.42,"y":35.5},{"c":"c3","x":12.485,"y":37.9},{"c":"c3","x":12.546,"y":40.3},{"c":"c3","x":12.594,"y":38.9},{"c":"c3","x":12.68,"y":34.9},{"c":"c3","x":12.767,"y":32.9},{"c":"c3","x":12.854,"y":31.9},{"c":"c3","x":12.984,"y":31.9},{"c":"c3","x":13.114,"y":31.3},{"c":"c3","x":13.286,"y":30.9},{"c":"c3","x":13.4,"y":30.7},
 {"c":"c2","x":11.857,"y":16.8},{"c":"c2","x":12.0,"y":17.2},{"c":"c2","x":12.204,"y":17.4},{"c":"c2","x":12.399,"y":18.2},{"c":"c2","x":12.594,"y":19.8},{"c":"c2","x":12.702,"y":21.8},{"c":"c2","x":12.767,"y":23.8},{"c":"c2","x":12.821,"y":26.7},{"c":"c2","x":12.854,"y":24.8},{"c":"c2","x":12.919,"y":19.8},{"c":"c2","x":13.005,"y":18.2},{"c":"c2","x":13.114,"y":17.8},{"c":"c2","x":13.286,"y":17.4},{"c":"c2","x":13.4,"y":16.4},
 {"c":"c1","x":11.857,"y":0.8},{"c":"c1","x":12.0,"y":1.0},{"c":"c1","x":12.204,"y":1.4},{"c":"c1","x":12.42,"y":2.2},{"c":"c1","x":12.594,"y":3.8},{"c":"c1","x":12.702,"y":5.8},{"c":"c1","x":12.789,"y":8.8},{"c":"c1","x":12.854,"y":11.4},{"c":"c1","x":12.882,"y":12.8},{"c":"c1","x":12.919,"y":10.8},{"c":"c1","x":12.984,"y":6.8},{"c":"c1","x":13.07,"y":2.8},{"c":"c1","x":13.178,"y":1.4},{"c":"c1","x":13.4,"y":1.0}
 ],
 "f_dots":[{"c":"c6","y":85.6},{"c":"c5","y":71.6},{"c":"c4","y":56.9},{"c":"c3","y":42.3},{"c":"c2","y":28.3},{"c":"c1","y":13.8}],
 "f_vl":[{"c":"c7","x":12.886,"y1":98,"y2":85.6},{"c":"c6","x":12.865,"y1":83.6,"y2":71.6},{"c":"c5","x":12.54,"y1":68.9,"y2":56.9},{"c":"c4","x":12.518,"y1":55.5,"y2":42.3},{"c":"c3","x":12.546,"y1":40.3,"y2":28.3},{"c":"c2","x":12.821,"y1":26.7,"y2":13.8},{"c":"c1","x":12.882,"y1":12.8,"y2":0}],
 "f_labels":[{"c":"c7","y":90.4,"lab":"0 V"},{"c":"c6","y":76,"lab":"0.5 V"},{"c":"c5","y":62,"lab":"0.7 V"},{"c":"c4","y":47.5,"lab":"1.1 V"},{"c":"c3","y":33.5,"lab":"0.7 V"},{"c":"c2","y":19.2,"lab":"0.5 V"},{"c":"c1","y":4.4,"lab":"0 V"}]
},
"spacing":3.3,
"resolve":{"scale":{"x":"independent","y":"independent","color":"independent","fill":"independent"}},
"vconcat":[
 {"spacing":0,"bounds":"flush","resolve":{"scale":{"x":"independent","y":"independent","color":"independent","fill":"independent"}},
  "hconcat":[
   {"width":23,"height":168,"view":{"stroke":null},"data":{"name":"one"},"mark":{"type":"point","opacity":0},"encoding":{}},
   {"width":207,"height":168,
    "layer":[
     {"data":{"name":"a"},"mark":{"type":"line","strokeWidth":1.2,"interpolate":"monotone"},
      "encoding":{
       "x":{"field":"x","type":"quantitative","scale":{"domain":[0,178.4],"nice":false,"zero":false},"axis":{"title":"Specific capacity (mAh g⁻¹)","values":[0,20,40,60,80,100,120,140,160],"format":"d","titlePadding":4,"labelOverlap":false,"labelSeparation":-100,"labelFontSize":9.5}},
       "y":{"field":"y","type":"quantitative","scale":{"domain":[0,1.17],"nice":false,"zero":false},"axis":{"title":"Potential (V vs.SCE)","values":[0,0.2,0.4,0.6,0.8,1.0],"format":".1f","titlePadding":6,"labelOverlap":false,"labelSeparation":-100}},
       "color":{"field":"r","type":"nominal","scale":{"domain":["50 mA g⁻¹","100 mA g⁻¹","200 mA g⁻¹","500 mA g⁻¹","1000 mA g⁻¹"],"range":["#000000","#ff1a1a","#1f9e78","#1fa3c6","#ee2f6c"]},
        "legend":{"title":"KMO-2","orient":"none","legendX":149,"legendY":79,"symbolType":"stroke","symbolSize":160,"symbolStrokeWidth":1.5,"labelFontSize":7,"titleFontSize":8,"titleFontWeight":"normal","titlePadding":0,"rowPadding":-3,"labelOffset":3,"titleAnchor":"middle","padding":0}},
       "detail":{"field":"b"}}},
     {"data":{"name":"one"},"mark":{"type":"rule","color":"#8a8a8a","strokeWidth":2.5},"encoding":{"x":{"datum":78},"x2":{"datum":102},"y":{"datum":0.94}}},
     {"data":{"name":"one"},"mark":{"type":"point","shape":"triangle-left","filled":true,"color":"#8a8a8a","size":45,"opacity":1},"encoding":{"x":{"datum":77},"y":{"datum":0.94}}},
     {"data":{"name":"one"},"mark":{"type":"rule","color":"#8a8a8a","strokeWidth":1,"strokeDash":[5,3]},"encoding":{"x":{"datum":102},"x2":{"datum":140},"y":{"datum":0.935}}},
     {"data":{"name":"one"},"mark":{"type":"text","align":"left","baseline":"middle","fontSize":8,"color":"#ee2f6c"},"encoding":{"x":{"datum":84},"y":{"datum":0.955},"text":{"value":"25 th"}}},
     {"data":{"name":"one"},"mark":{"type":"text","align":"left","baseline":"middle","fontSize":8,"color":"#000"},"encoding":{"x":{"datum":143},"y":{"datum":0.955},"text":{"value":"1 st"}}},
     {"data":{"name":"one"},"mark":{"type":"text","align":"left","baseline":"alphabetic","fontSize":22,"color":"#000"},"encoding":{"x":{"datum":-33.4},"y":{"datum":1.065},"text":{"value":"a"}}}
    ]},
   {"width":50,"height":168,"view":{"stroke":null},"data":{"name":"one"},"mark":{"type":"point","opacity":0},"encoding":{}},
   {"width":204,"height":168,
    "layer":[
     {"layer":[
       {"data":{"name":"b"},"transform":[{"fold":["discharge","charge"],"as":["s","cap"]}],
        "mark":{"type":"line","strokeWidth":1.2,"point":{"filled":true,"size":9}},
        "encoding":{
         "x":{"field":"cyc","type":"quantitative","scale":{"domain":[-10,2058],"nice":false,"zero":false},"axis":{"title":"Cycle number","values":[0,250,500,750,1000,1250,1500,1750,2000],"format":"d","labelFontSize":9.5,"labelOverlap":false,"labelSeparation":-100}},
         "y":{"field":"cap","type":"quantitative","scale":{"domain":[17.1,148.6],"nice":false,"zero":false},"axis":{"title":"Specific capacity (mAh g⁻¹)","values":[20,40,60,80,100,120,140],"format":"d","titlePadding":1,"labelOverlap":false,"labelSeparation":-100}},
         "color":{"field":"s","type":"nominal","scale":{"domain":["discharge","charge"],"range":["#111111","#f22a2a"]},"legend":null}}},
       {"data":{"name":"b_leg"},"mark":{"type":"rule","strokeWidth":1.5},
        "encoding":{"x":{"datum":1478},"x2":{"datum":1662},"y":{"field":"ly","type":"quantitative"},"color":{"field":"s","type":"nominal"}}},
       {"data":{"name":"b_leg"},"mark":{"type":"point","filled":true,"size":14,"opacity":1},
        "encoding":{"x":{"datum":1570},"y":{"field":"ly","type":"quantitative"},"color":{"field":"s","type":"nominal"}}},
       {"data":{"name":"b_leg"},"mark":{"type":"text","align":"left","baseline":"middle","fontSize":8,"color":"#222"},
        "encoding":{"x":{"datum":1680},"y":{"field":"ly","type":"quantitative"},"text":{"field":"s"}}},
       {"data":{"name":"one"},"mark":{"type":"text","align":"left","baseline":"middle","fontSize":8},"encoding":{"x":{"datum":1700},"y":{"datum":75},"text":{"value":"1 A g⁻¹"}}},
       {"data":{"name":"one"},"mark":{"type":"text","align":"left","baseline":"alphabetic","fontSize":22,"color":"#000"},"encoding":{"x":{"datum":-423},"y":{"datum":138.2},"text":{"value":"b"}}}
     ]},
     {"data":{"name":"b"},"mark":{"type":"line","color":"#ff9a1a","strokeWidth":1.2,"point":{"filled":true,"size":8,"shape":"triangle-up","color":"#ff9a1a"}},
      "encoding":{
       "x":{"field":"cyc","type":"quantitative"},
       "y":{"field":"ce","type":"quantitative","scale":{"domain":[28.8,105],"nice":false,"zero":false},"axis":{"orient":"right","title":"Coulombic Efficiency (%)","values":[40,60,80,100],"format":"d","domainColor":"#ff9a1a","tickColor":"#ff9a1a","labelColor":"#ff9a1a","titleColor":"#ff9a1a","labelFont":"Liberation Serif","titlePadding":4,"labelOverlap":false,"labelSeparation":-100}}}}
    ],
    "resolve":{"scale":{"y":"independent"}}},
   {"width":58,"height":168,"view":{"stroke":null},"data":{"name":"one"},"mark":{"type":"point","opacity":0},"encoding":{}},
   {"width":210,"height":166,
    "layer":[
     {"data":{"name":"c_sticks"},"mark":{"type":"rule","color":"#f26060","strokeWidth":1},
      "encoding":{
       "x":{"field":"x","type":"quantitative","scale":{"domain":[10,90],"nice":false,"zero":false},"axis":{"title":"2 Theta (Degree)","values":[10,20,30,40,50,60,70,80,90],"format":"d","labelOverlap":false,"labelSeparation":-100}},
       "y":{"field":"h","type":"quantitative","scale":{"domain":[0,100],"nice":false},"axis":{"title":"Intensity (a.u.)","labels":false,"ticks":false,"titlePadding":13}},
       "y2":{"datum":0}}},
     {"data":{"name":"c_curves"},"mark":{"type":"line","strokeWidth":1},
      "encoding":{
       "x":{"field":"x","type":"quantitative"},
       "y":{"field":"y","type":"quantitative"},
       "color":{"field":"s","type":"nominal","scale":{"domain":["KMO-2  1st","KMO-2  2000th"],"range":["#f25050","#5a5a5a"]},
        "legend":{"title":null,"orient":"top-right","offset":3,"symbolType":"stroke","symbolSize":225,"symbolStrokeWidth":1.5,"labelFontSize":8,"rowPadding":-4,"labelOffset":3,"padding":0}}}},
     {"data":{"name":"one"},"mark":{"type":"text","align":"left","baseline":"alphabetic","fontSize":20,"fontWeight":"bold","color":"#000"},"encoding":{"x":{"datum":1.73},"y":{"datum":92.8},"text":{"value":"c"}}}
    ]}
  ]},
 {"spacing":0,"bounds":"flush","resolve":{"scale":{"x":"independent","y":"independent","color":"independent","fill":"independent"}},
  "hconcat":[
   {"width":234,"height":163,
    "layer":[
     {"data":{"name":"d_comp"},"mark":{"type":"area","interpolate":"monotone","fillOpacity":0.6},
      "encoding":{
       "x":{"field":"x","type":"quantitative","scale":{"domain":[634.5,660.3],"reverse":true,"nice":false,"zero":false},"axis":{"title":"Binding Energy (eV)","values":[660,655,650,645,640,635],"format":"d","labelOverlap":false,"labelSeparation":-100}},
       "y":{"field":"t","type":"quantitative","stack":null,"scale":{"domain":[0,100],"nice":false},"axis":{"title":"Intensity (a.u.)","labels":false,"ticks":false,"titlePadding":9}},
       "y2":{"field":"bo"},
       "color":{"field":"k","type":"nominal","scale":{"domain":["uo1","uo2","lo1","lo2","ub1","ub2","lg1","lg2","up1","up2","lp1","lp2"],"range":["#f7c48e","#f7c48e","#f7c48e","#f7c48e","#6ab0d8","#6ab0d8","#45b892","#45b892","#f3a5b8","#c09ab0","#f29ab2","#f29ab2"]},"legend":null},
       "detail":{"field":"k"}}},
     {"data":{"name":"d_base"},"mark":{"type":"line","color":"#f39ab0","strokeWidth":1.6,"interpolate":"monotone"},
      "encoding":{"x":{"field":"x","type":"quantitative"},"y":{"field":"y","type":"quantitative"},"detail":{"field":"s"}}},
     {"data":{"name":"d_orig"},"mark":{"type":"line","color":"#f7a04c","strokeWidth":2.4,"interpolate":"monotone","point":{"filled":true,"size":5,"color":"#f08a30"}},
      "encoding":{"x":{"field":"x","type":"quantitative"},"y":{"field":"y","type":"quantitative"},"detail":{"field":"s"}}},
     {"data":{"name":"one"},"mark":{"type":"rule","color":"#f5a050","strokeWidth":1,"strokeDash":[2,2]},"encoding":{"y":{"datum":49.4}}},
     {"data":{"name":"one"},"mark":{"type":"text","align":"center","baseline":"middle","fontSize":8.5,"lineHeight":10,"color":"#222"},"encoding":{"x":{"datum":636.2},"y":{"datum":61.3},"text":{"value":["KMO-2","2000th"]}}},
     {"data":{"name":"one"},"mark":{"type":"text","align":"center","baseline":"middle","fontSize":8.5,"lineHeight":10,"color":"#222"},"encoding":{"x":{"datum":636.2},"y":{"datum":12.3},"text":{"value":["KMO-2","1st"]}}},
     {"data":{"name":"one"},"mark":{"type":"point","filled":true,"color":"#f7a04c","size":22,"opacity":1},"encoding":{"x":{"datum":641.0},"y":{"datum":96}}},
     {"data":{"name":"one"},"mark":{"type":"rule","color":"#f39ab0","strokeWidth":2},"encoding":{"x":{"datum":641.5},"x2":{"datum":640.3},"y":{"datum":90.2}}},
     {"data":{"name":"one"},"mark":{"type":"text","align":"left","baseline":"middle","fontSize":8,"color":"#333"},"encoding":{"x":{"datum":639.8},"y":{"datum":96},"text":{"value":"original  curve"}}},
     {"data":{"name":"one"},"mark":{"type":"text","align":"left","baseline":"middle","fontSize":8,"color":"#333"},"encoding":{"x":{"datum":639.8},"y":{"datum":90.2},"text":{"value":"fitting curve"}}},
     {"data":{"name":"one"},"mark":{"type":"text","align":"left","baseline":"alphabetic","fontSize":22,"color":"#000"},"encoding":{"x":{"datum":662.65},"y":{"datum":89},"text":{"value":"d"}}}
    ]},
   {"width":47,"height":166,"view":{"stroke":null},"data":{"name":"one"},"mark":{"type":"point","opacity":0},"encoding":{}},
   {"width":204,"height":166,
    "layer":[
     {"data":{"name":"e_rules"},"mark":{"type":"rule","strokeWidth":1,"strokeDash":[6,2,1,2]},
      "encoding":{
       "x":{"field":"p","type":"quantitative","scale":{"domain":[0,1.1],"reverse":true,"nice":false,"zero":false},"axis":{"title":"Potential (V vs.SCE)","values":[1.0,0.8,0.6,0.4,0.2,0.0],"format":".1f","labelOverlap":false,"labelSeparation":-100}},
       "x2":{"datum":0},
       "y":{"field":"t","type":"quantitative","scale":{"domain":[-0.03,3.1],"nice":false,"zero":false},"axis":{"title":"Time (h)","values":[0,1,2,3],"format":"d","titlePadding":9,"labelOverlap":false,"labelSeparation":-100}},
       "color":{"field":"s","type":"nominal","scale":{"domain":["ins","ext"],"range":["#f9b06a","#f7a0a8"]},"legend":null}}},
     {"data":{"name":"e_lines"},"mark":{"type":"line","strokeWidth":1.6,"interpolate":"monotone"},
      "encoding":{"x":{"field":"p","type":"quantitative"},"y":{"field":"t","type":"quantitative"},"color":{"field":"s","type":"nominal"}}},
     {"data":{"name":"one"},"mark":{"type":"rule","color":"#f9a860","strokeWidth":1.2,"strokeDash":[6,2,1,2]},"encoding":{"x":{"datum":0.055},"y":{"datum":1.62},"y2":{"datum":2.66}}},
     {"data":{"name":"one"},"mark":{"type":"point","shape":"triangle-up","filled":true,"color":"#f9a860","size":40,"opacity":1},"encoding":{"x":{"datum":0.055},"y":{"datum":2.68}}},
     {"data":{"name":"one"},"mark":{"type":"rule","color":"#f79aa3","strokeWidth":1.2,"strokeDash":[6,2,1,2]},"encoding":{"x":{"datum":0.055},"y":{"datum":0.28},"y2":{"datum":1.28}}},
     {"data":{"name":"one"},"mark":{"type":"point","shape":"triangle-up","filled":true,"color":"#f79aa3","size":40,"opacity":1},"encoding":{"x":{"datum":0.055},"y":{"datum":1.3}}},
     {"data":{"name":"one"},"mark":{"type":"text","angle":270,"align":"center","baseline":"middle","fontSize":9,"color":"#f9a860"},"encoding":{"x":{"datum":0.11},"y":{"datum":2.14},"text":{"value":"Insertion K⁺"}}},
     {"data":{"name":"one"},"mark":{"type":"text","angle":270,"align":"center","baseline":"middle","fontSize":9,"color":"#f79aa3"},"encoding":{"x":{"datum":0.11},"y":{"datum":0.78},"text":{"value":"Extraction K⁺"}}},
     {"data":{"name":"one"},"mark":{"type":"text","align":"left","baseline":"middle","fontSize":9.5,"color":"#111"},"encoding":{"x":{"datum":1.066},"y":{"datum":2.89},"text":{"value":"KMO-2"}}},
     {"data":{"name":"e_dots"},"mark":{"type":"point","filled":true,"size":38,"opacity":1},
      "encoding":{"x":{"field":"p","type":"quantitative"},"y":{"field":"t","type":"quantitative"},
       "fill":{"field":"k","type":"nominal","scale":{"domain":["teal","steel","gray","green"],"range":["#1a7d96","#5a8ca8","#8c8c8c","#1e8a80"]},"legend":null}}},
     {"data":{"name":"one"},"mark":{"type":"text","align":"left","baseline":"alphabetic","fontSize":22,"color":"#000"},"encoding":{"x":{"datum":1.24},"y":{"datum":2.76},"text":{"value":"e"}}}
    ]},
   {"width":45,"height":166,"view":{"stroke":null},"data":{"name":"one"},"mark":{"type":"point","opacity":0},"encoding":{}},
   {"width":239,"height":166,"view":{"stroke":"#999999"},
    "layer":[
     {"data":{"name":"f_dots"},"mark":{"type":"rule","strokeWidth":1,"strokeDash":[1.5,1.5]},
      "encoding":{
       "y":{"field":"y","type":"quantitative","scale":{"domain":[0,100],"nice":false},"axis":{"title":"Intensity (a.u.)","labels":false,"ticks":false,"titlePadding":12,"titleFontSize":9.5,"domainColor":"#999999"}},
       "color":{"field":"c","type":"nominal","scale":{"domain":["c1","c2","c3","c4","c5","c6","c7"],"range":["#3aa95e","#26a07e","#2891a0","#1b6ea2","#56a6cf","#6b9bbb","#9b9b9b"]},"legend":null}}},
     {"data":{"name":"f_curves"},"mark":{"type":"line","strokeWidth":1.4,"interpolate":"monotone"},
      "encoding":{
       "x":{"field":"x","type":"quantitative","scale":{"domain":[11.85,13.4],"nice":false,"zero":false},"axis":{"title":"2 Theta (Degree)","values":[12.0,12.2,12.4,12.6,12.8,13.0,13.2,13.4],"format":".1f","domainColor":"#999999","tickColor":"#999999","labelOverlap":false,"labelSeparation":-100,"labelFontSize":9.5}},
       "y":{"field":"y","type":"quantitative"},
       "color":{"field":"c","type":"nominal"}}},
     {"data":{"name":"f_vl"},"mark":{"type":"rule","strokeWidth":1,"strokeDash":[5,2,1,2]},
      "encoding":{"x":{"field":"x","type":"quantitative"},"y":{"field":"y1","type":"quantitative"},"y2":{"field":"y2"},"color":{"field":"c","type":"nominal"}}},
     {"data":{"name":"f_labels"},"mark":{"type":"text","align":"right","baseline":"middle","fontSize":7.5},
      "encoding":{"x":{"datum":13.385},"y":{"field":"y","type":"quantitative"},"text":{"field":"lab"},"color":{"field":"c","type":"nominal"}}},
     {"data":{"name":"one"},"mark":{"type":"rule","color":"#8a8a8a","strokeWidth":1,"strokeDash":[5,2,1,2]},"encoding":{"x":{"datum":13.23},"y":{"datum":43.9},"y2":{"datum":84}}},
     {"data":{"name":"one"},"mark":{"type":"point","shape":"triangle-up","filled":true,"color":"#8a8a8a","size":35,"opacity":1},"encoding":{"x":{"datum":13.23},"y":{"datum":85}}},
     {"data":{"name":"one"},"mark":{"type":"rule","color":"#2891a0","strokeWidth":1,"strokeDash":[5,2,1,2]},"encoding":{"x":{"datum":13.23},"y":{"datum":9.8},"y2":{"datum":41.5}}},
     {"data":{"name":"one"},"mark":{"type":"point","shape":"triangle-up","filled":true,"color":"#2891a0","size":35,"opacity":1},"encoding":{"x":{"datum":13.23},"y":{"datum":42.5}}},
     {"data":{"name":"one"},"mark":{"type":"text","angle":270,"align":"center","baseline":"middle","fontSize":8.5,"color":"#8a8a8a"},"encoding":{"x":{"datum":13.165},"y":{"datum":68},"text":{"value":"discharge"}}},
     {"data":{"name":"one"},"mark":{"type":"text","angle":270,"align":"center","baseline":"middle","fontSize":8.5,"color":"#2891a0"},"encoding":{"x":{"datum":13.165},"y":{"datum":24},"text":{"value":"charge"}}},
     {"data":{"name":"one"},"mark":{"type":"text","align":"left","baseline":"alphabetic","fontSize":22,"color":"#000"},"encoding":{"x":{"datum":11.72},"y":{"datum":89.2},"text":{"value":"f"}}}
    ]}
  ]}
]
}
